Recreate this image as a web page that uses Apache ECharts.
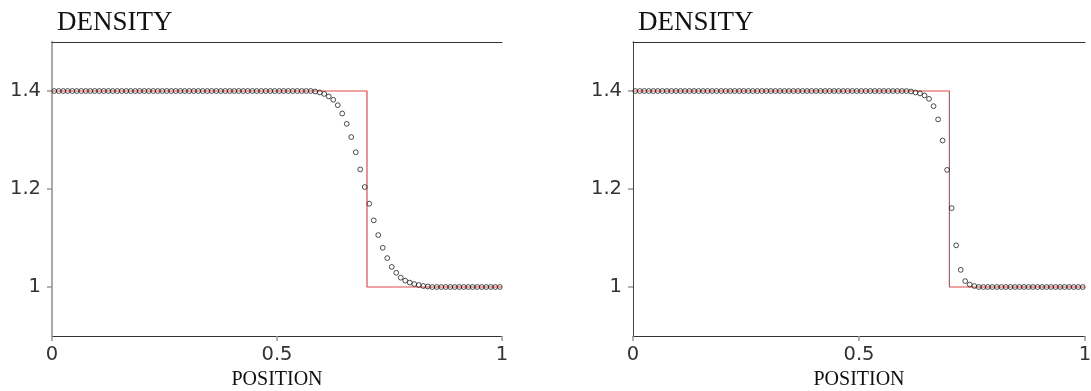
<!DOCTYPE html>
<html>
<head>
<meta charset="utf-8">
<title>Density profiles</title>
<script src="https://cdn.jsdelivr.net/npm/echarts@6/dist/echarts.min.js"></script>
<style>
  html, body { margin: 0; padding: 0; background: #fff; }
  #chart { width: 1091px; height: 391px; }
</style>
</head>
<body>
<div id="chart"></div>
<script>
// Cell-centred sample positions on the unit interval (100 cells)
const cellCount = 100;
const positions = Array.from({ length: cellCount }, (_, i) => (i + 0.5) / cellCount);

// Numerical density, left panel (more diffused front)
const densityLeft = [
  1.4, 1.4, 1.4, 1.4, 1.4, 1.4, 1.4, 1.4, 1.4, 1.4,
  1.4, 1.4, 1.4, 1.4, 1.4, 1.4, 1.4, 1.4, 1.4, 1.4,
  1.4, 1.4, 1.4, 1.4, 1.4, 1.4, 1.4, 1.4, 1.4, 1.4,
  1.4, 1.4, 1.4, 1.4, 1.4, 1.4, 1.4, 1.4, 1.4, 1.4,
  1.4, 1.4, 1.4, 1.4, 1.4, 1.4, 1.4, 1.4, 1.4, 1.4,
  1.4, 1.4, 1.4, 1.4, 1.4, 1.4, 1.4, 1.4, 1.399, 1.397,
  1.394, 1.389, 1.382, 1.371, 1.354, 1.333, 1.306, 1.275, 1.240, 1.204,
  1.170, 1.136, 1.106, 1.080, 1.059, 1.041, 1.029, 1.019, 1.013, 1.009,
  1.006, 1.004, 1.002, 1.001, 1.0, 1.0, 1.0, 1.0, 1.0, 1.0,
  1.0, 1.0, 1.0, 1.0, 1.0, 1.0, 1.0, 1.0, 1.0, 1.0
];

// Numerical density, right panel (sharper front)
const densityRight = [
  1.4, 1.4, 1.4, 1.4, 1.4, 1.4, 1.4, 1.4, 1.4, 1.4,
  1.4, 1.4, 1.4, 1.4, 1.4, 1.4, 1.4, 1.4, 1.4, 1.4,
  1.4, 1.4, 1.4, 1.4, 1.4, 1.4, 1.4, 1.4, 1.4, 1.4,
  1.4, 1.4, 1.4, 1.4, 1.4, 1.4, 1.4, 1.4, 1.4, 1.4,
  1.4, 1.4, 1.4, 1.4, 1.4, 1.4, 1.4, 1.4, 1.4, 1.4,
  1.4, 1.4, 1.4, 1.4, 1.4, 1.4, 1.4, 1.4, 1.4, 1.4,
  1.4, 1.399, 1.397, 1.395, 1.391, 1.384, 1.369, 1.342, 1.299, 1.239,
  1.161, 1.085, 1.035, 1.012, 1.005, 1.002, 1.0, 1.0, 1.0, 1.0,
  1.0, 1.0, 1.0, 1.0, 1.0, 1.0, 1.0, 1.0, 1.0, 1.0,
  1.0, 1.0, 1.0, 1.0, 1.0, 1.0, 1.0, 1.0, 1.0, 1.0
];

// Exact solution: step from 1.4 to 1.0 at x = 0.7
const exactX = [0, 0.7, 0.7, 1];
const exactDensity = [1.4, 1.4, 1.0, 1.0];

// Axis ticks
const xTicks = [0, 0.5, 1];
const yTicks = [1, 1.2, 1.4];

const titleText = 'DENSITY';
const xName = 'POSITION';

const serif = '"Liberation Serif", "DejaVu Serif", serif';
const sans = '"DejaVu Sans", sans-serif';

const pairs = (xs, ys) => xs.map((x, i) => [x, ys[i]]);

const grids = [
  { left: 52, right: 589, top: 42, bottom: 55, containLabel: false, outerBoundsMode: 'none' },
  { left: 633, right: 6, top: 42, bottom: 55, containLabel: false, outerBoundsMode: 'none' }
];

function xAxisFor(gi) {
  return {
    type: 'value', gridIndex: gi, min: 0, max: 1, interval: 0.5,
    name: xName, nameLocation: 'middle', nameGap: 28,
    nameTextStyle: { fontFamily: serif, fontSize: 20, color: '#111' },
    axisLine: { show: true, lineStyle: { color: '#333', width: 1 } },
    axisTick: { show: true, length: 5, customValues: xTicks, lineStyle: { color: '#999', width: 1.5 } },
    axisLabel: { show: true, margin: 9, customValues: xTicks, fontFamily: sans, fontSize: 19.5, color: '#333',
      formatter: v => String(v) },
    splitLine: { show: false }
  };
}
function xTopFor(gi) {
  return {
    type: 'value', gridIndex: gi, position: 'top', min: 0, max: 1,
    axisLine: { show: true, lineStyle: { color: '#333', width: 1 } },
    axisTick: { show: false }, axisLabel: { show: false }, splitLine: { show: false }
  };
}
function yAxisFor(gi) {
  return {
    type: 'value', gridIndex: gi, min: 0.9, max: 1.5,
    axisLine: { show: true, lineStyle: { color: '#333', width: 1 } },
    axisTick: { show: true, length: 5, customValues: yTicks, lineStyle: { color: '#999', width: 1.5 } },
    axisLabel: { show: true, margin: 11, customValues: yTicks, fontFamily: sans, fontSize: 19.5, color: '#333',
      formatter: v => String(v) },
    splitLine: { show: false }
  };
}
function yRightFor(gi, color, width) {
  return {
    type: 'value', gridIndex: gi, position: 'right', min: 0.9, max: 1.5,
    axisLine: { show: true, lineStyle: { color: color, width: width } },
    axisTick: { show: false }, axisLabel: { show: false }, splitLine: { show: false }
  };
}

function seriesFor(gi, density) {
  return [
    {
      type: 'line', xAxisIndex: gi * 2, yAxisIndex: gi * 2,
      data: pairs(exactX, exactDensity),
      showSymbol: false, symbol: 'none',
      lineStyle: { color: '#e04a4a', width: 1.2 },
      z: 2, silent: true
    },
    {
      type: 'scatter', xAxisIndex: gi * 2, yAxisIndex: gi * 2,
      data: pairs(positions, density),
      symbol: 'circle', symbolSize: 4.8,
      itemStyle: { color: 'rgba(255,255,255,0)', borderColor: '#222', borderWidth: 1 },
      z: 3, silent: true
    }
  ];
}

const chart = echarts.init(document.getElementById('chart'), null, { renderer: 'canvas' });
chart.setOption({
  animation: false,
  backgroundColor: '#fff',
  title: [
    { text: titleText, left: 52, top: 4, textStyle: { fontFamily: serif, fontSize: 27, fontWeight: 'normal', color: '#111' } },
    { text: titleText, left: 633, top: 4, textStyle: { fontFamily: serif, fontSize: 27, fontWeight: 'normal', color: '#111' } }
  ],
  grid: grids,
  xAxis: [xAxisFor(0), xTopFor(0), xAxisFor(1), xTopFor(1)],
  yAxis: [yAxisFor(0), yRightFor(0, '#aaa', 2), yAxisFor(1), yRightFor(1, '#444', 1)],
  series: [...seriesFor(0, densityLeft), ...seriesFor(1, densityRight)]
});
</script>
</body>
</html>
